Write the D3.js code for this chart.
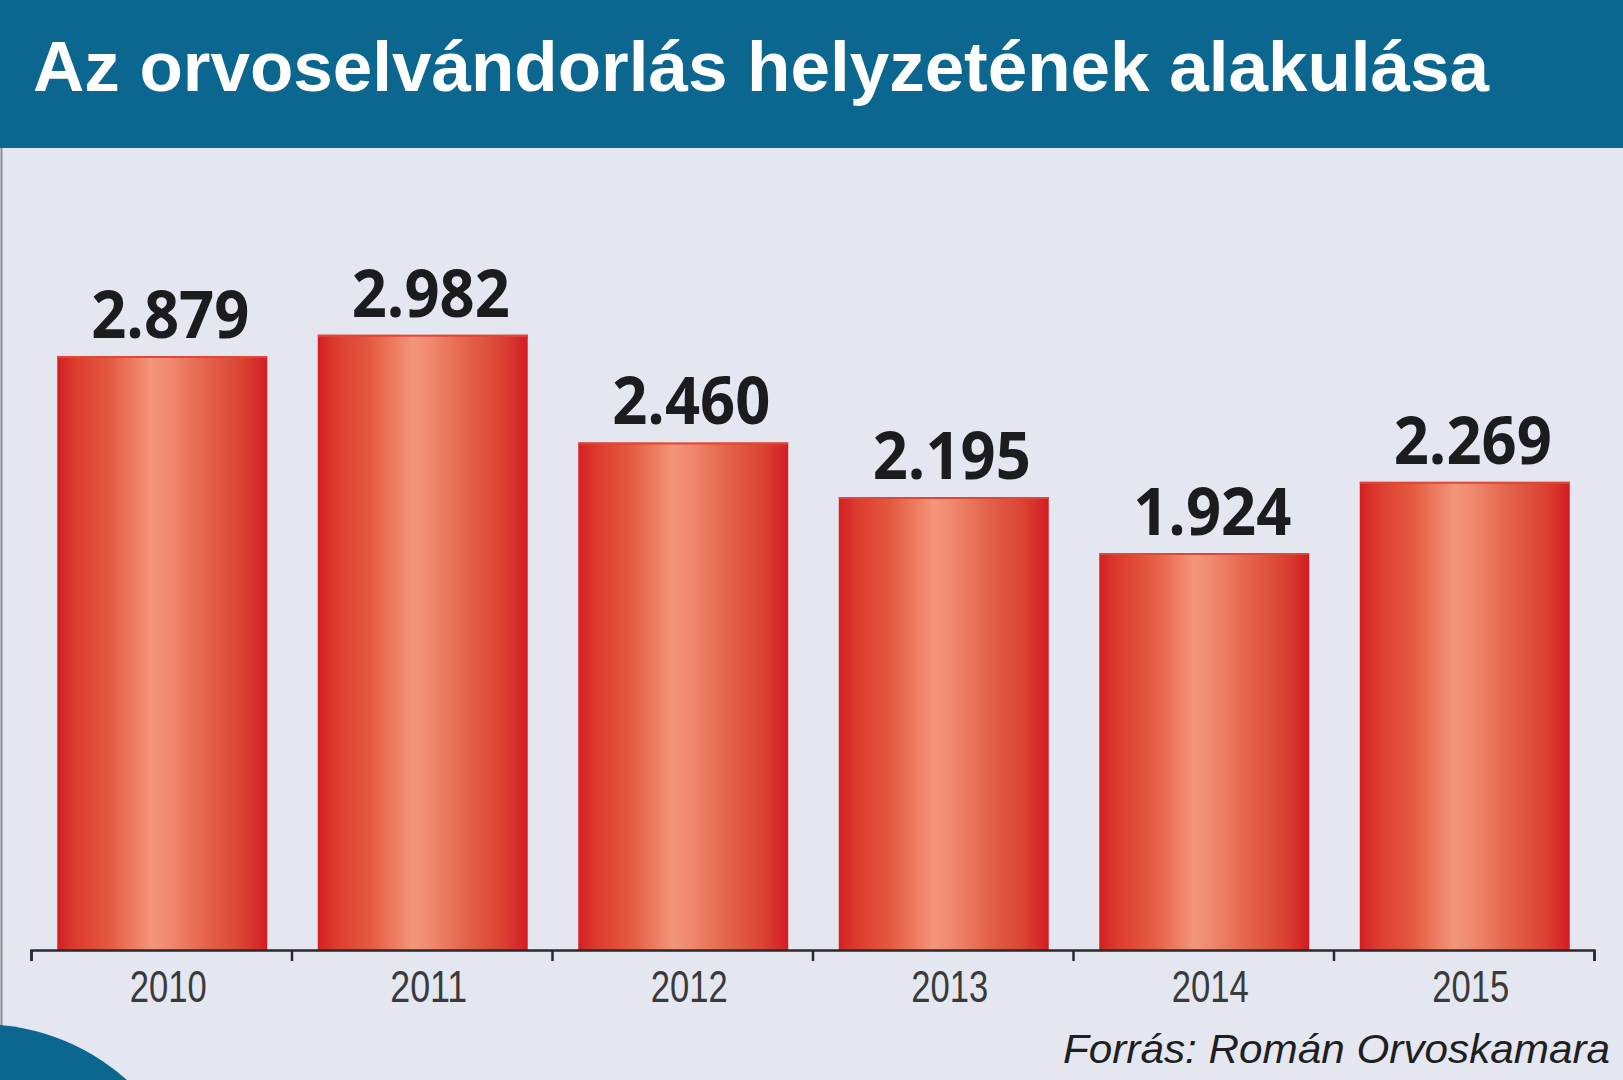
<!DOCTYPE html>
<html><head><meta charset="utf-8">
<script src="https://cdn.jsdelivr.net/npm/d3@7"></script>
<style>html,body{margin:0;padding:0;background:#e4e7ef;overflow:hidden}</style>
</head><body>
<script>
const title = "Az orvoselvándorlás helyzetének alakulása";
const source = "Forrás: Román Orvoskamara";
const years = ["2010","2011","2012","2013","2014","2015"];
const values = [2879, 2982, 2460, 2195, 1924, 2269];

const W = 1623, H = 1080;
const svg = d3.select("body").append("svg").attr("width", W).attr("height", H);
const defs = svg.append("defs");
const grad = defs.append("linearGradient").attr("id","barGrad").attr("x1","0").attr("x2","1").attr("y1","0").attr("y2","0");
[[0,"#d21f24"],[0.08,"#dc3a2e"],[0.25,"#e45a40"],[0.45,"#f39579"],[0.53,"#f08a70"],[0.7,"#e4654c"],[0.88,"#da4332"],[1,"#d31c24"]]
  .forEach(([o,c]) => grad.append("stop").attr("offset", o).attr("stop-color", c));

svg.append("rect").attr("x",0).attr("y",0).attr("width",W).attr("height",H).attr("fill","#e4e7ef");
svg.append("line").attr("x1",1.5).attr("x2",1.5).attr("y1",148).attr("y2",H).attr("stroke","#8a8d94").attr("stroke-width",2);
svg.append("circle").attr("cx",-20).attr("cy",1245).attr("r",221).attr("fill","#0b6690");
svg.append("rect").attr("x",0).attr("y",0).attr("width",W).attr("height",148).attr("fill","#0b6690");
svg.append("text").attr("x",33).attr("y",91)
  .attr("font-family","'Liberation Sans', Arial, sans-serif").attr("font-weight","bold")
  .attr("font-size",71).attr("fill","#ffffff")
  .attr("textLength",1456).attr("lengthAdjust","spacingAndGlyphs").text(title);

const x = d3.scaleBand().domain(years).range([31, 1594]).paddingInner(0.194).paddingOuter(0.097);
const y = d3.scaleLinear().domain([0, 3000]).range([950, 331]);
const fmt = d3.formatLocale({decimal:",", thousands:".", grouping:[3], currency:["",""]}).format(",");

const data = years.map((yr,i) => ({year: yr, value: values[i]}));

svg.selectAll("rect.bar").data(data).join("rect").attr("class","bar")
  .attr("x", d => x(d.year) + 1).attr("width", x.bandwidth())
  .attr("y", d => y(d.value)).attr("height", d => y(0) - y(d.value))
  .attr("fill","url(#barGrad)");
svg.selectAll("line.rim").data(data).join("line").attr("class","rim")
  .attr("x1", d => x(d.year) + 1).attr("x2", d => x(d.year) + 1 + x.bandwidth())
  .attr("y1", d => y(d.value) + 1).attr("y2", d => y(d.value) + 1)
  .attr("stroke","#e0473a").attr("stroke-width",2);

svg.selectAll("text.val").data(data).join("text").attr("class","val")
  .attr("x", d => x(d.year) + x.bandwidth()/2 + 9).attr("y", d => y(d.value) - 18)
  .attr("text-anchor","middle")
  .attr("font-family","'Open Sans', sans-serif").attr("font-weight","bold")
  .attr("font-size",67).attr("fill","#1c1c1e")
  .attr("textLength",158).attr("lengthAdjust","spacingAndGlyphs")
  .text(d => fmt(d.value));

const bounds = d3.range(years.length + 1).map(String);
const xb = d3.scalePoint().domain(bounds).range([31, 1594]);
const axB = svg.append("g").attr("transform", `translate(0,${y(0)})`)
  .call(d3.axisBottom(xb).tickSize(11).tickSizeOuter(11).tickFormat(""));
axB.selectAll("path,line").attr("stroke","#2a2a2a").attr("stroke-width",2.5);

const axL = svg.append("g").attr("transform", `translate(7,${y(0)})`)
  .call(d3.axisBottom(x).tickSize(0).tickPadding(0));
axL.select(".domain").remove();
axL.selectAll("text").attr("dy",null).attr("y",52)
  .attr("font-family","'Liberation Sans Narrow', 'Liberation Sans', sans-serif")
  .attr("font-size",45).attr("fill","#3a3a3c")
  .attr("textLength",77).attr("lengthAdjust","spacingAndGlyphs");

svg.append("text").attr("x",1063).attr("y",1063)
  .attr("font-family","'Liberation Sans', Arial, sans-serif").attr("font-style","italic")
  .attr("font-size",41).attr("fill","#1f1f22")
  .attr("textLength",547).attr("lengthAdjust","spacingAndGlyphs").text(source);
</script>
</body></html>
